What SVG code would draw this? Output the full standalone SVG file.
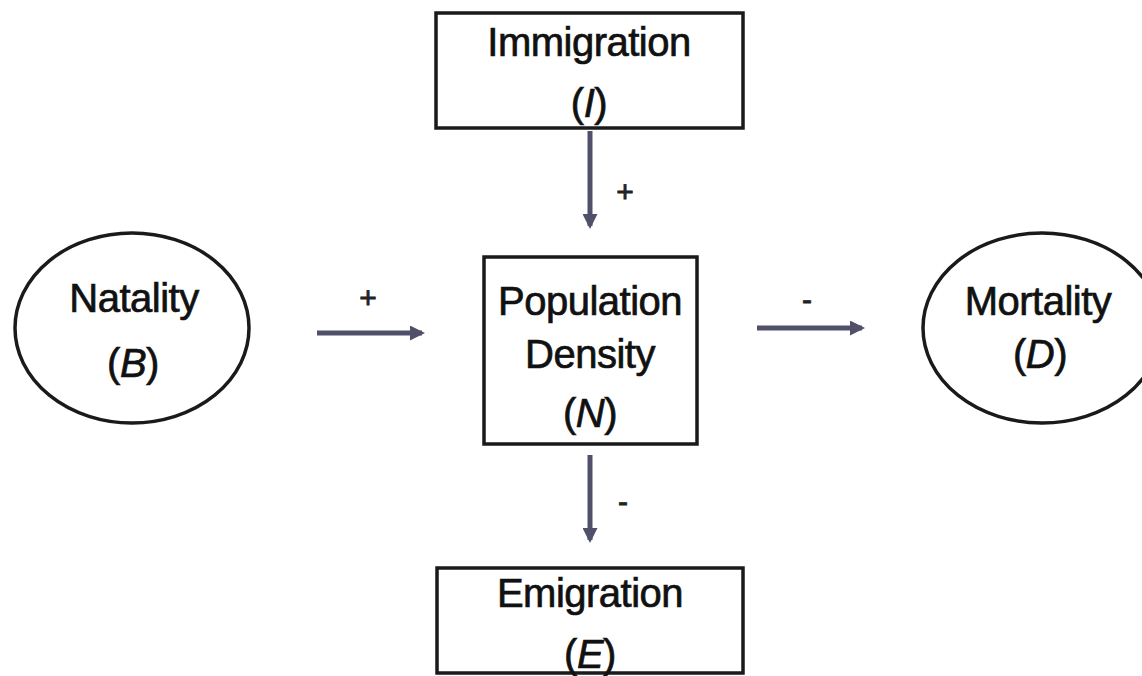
<svg xmlns="http://www.w3.org/2000/svg" width="1142" height="676" viewBox="0 0 1142 676">
<style>
.t{font-family:"Liberation Sans",Arial,sans-serif;font-size:40px;fill:#111;stroke:#111;stroke-width:0.7;text-anchor:middle;letter-spacing:-0.5px}
.s{font-family:"Liberation Sans",Arial,sans-serif;font-size:30px;fill:#222;stroke:#222;stroke-width:0.8;text-anchor:middle}
.box{fill:#fff;stroke:#1a1a1a;stroke-width:3.5}
.c{stroke:#50506a;stroke-width:5;fill:none}
</style>
<defs>
<marker id="ah" viewBox="0 0 10 10" refX="8" refY="5" markerWidth="3" markerHeight="3" orient="auto" markerUnits="strokeWidth">
<path d="M0,0 L10,5 L0,10 z" fill="#50506a"/>
</marker>
</defs>
<rect width="1142" height="676" fill="#fff"/>
<g id="immigration">
<rect class="box" x="436" y="13" width="307" height="115"/>
<text class="t" x="589" y="56">Immigration</text>
<text class="t" x="589" y="117">(<tspan font-style="italic">I</tspan>)</text>
</g>
<g id="natality">
<ellipse class="box" cx="132" cy="328" rx="117" ry="95"/>
<text class="t" x="134" y="312">Natality</text>
<text class="t" x="133" y="377">(<tspan font-style="italic">B</tspan>)</text>
</g>
<g id="population">
<rect class="box" x="484" y="257" width="213" height="187"/>
<text class="t" x="590" y="315">Population</text>
<text class="t" x="590" y="368">Density</text>
<text class="t" x="590" y="427">(<tspan font-style="italic">N</tspan>)</text>
</g>
<g id="mortality">
<ellipse class="box" cx="1042" cy="328" rx="119" ry="95"/>
<text class="t" x="1038" y="315">Mortality</text>
<text class="t" x="1040" y="368">(<tspan font-style="italic">D</tspan>)</text>
</g>
<g id="emigration">
<rect class="box" x="437" y="568" width="306" height="105"/>
<text class="t" x="590" y="607">Emigration</text>
<text class="t" x="590" y="668">(<tspan font-style="italic">E</tspan>)</text>
</g>
<g id="connectors">
<line class="c" x1="590" y1="131" x2="590" y2="226" marker-end="url(#ah)"/>
<line class="c" x1="317" y1="333" x2="422" y2="333" marker-end="url(#ah)"/>
<line class="c" x1="757" y1="328" x2="862" y2="328" marker-end="url(#ah)"/>
<line class="c" x1="590" y1="455" x2="590" y2="540" marker-end="url(#ah)"/>
<text class="s" x="625" y="202">+</text>
<text class="s" x="368" y="308">+</text>
<text class="s" x="807" y="310">-</text>
<text class="s" x="623" y="512">-</text>
</g>
</svg>
